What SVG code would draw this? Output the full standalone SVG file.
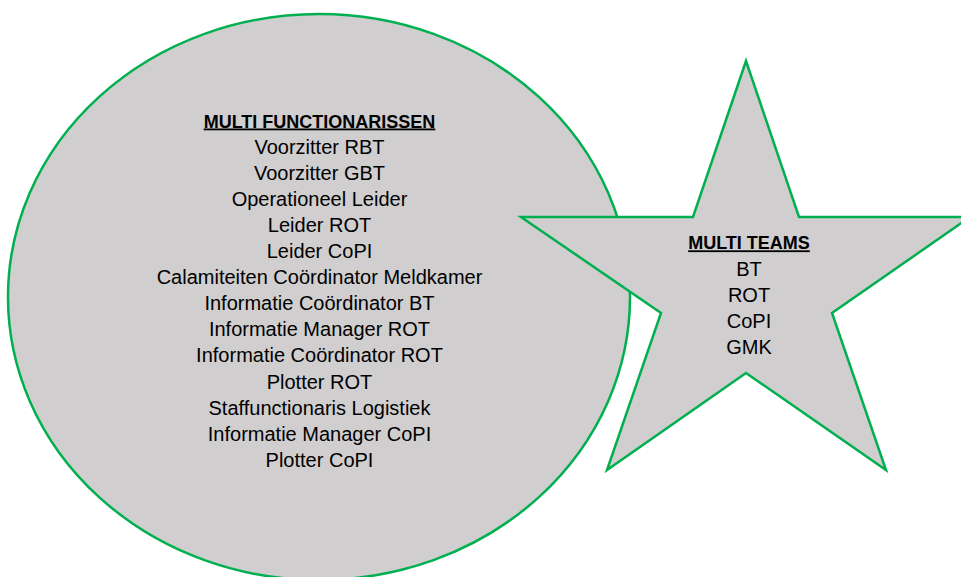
<svg xmlns="http://www.w3.org/2000/svg" width="961" height="577" viewBox="0 0 961 577">
<style>
.shape{fill:#d0cece;stroke:#00b050;stroke-width:2.5;stroke-linejoin:miter}
.t{font-family:"Liberation Sans",Arial,sans-serif;font-size:20px;fill:#000;text-anchor:middle}
.h{font-family:"Liberation Sans",Arial,sans-serif;font-size:18px;font-weight:bold;fill:#000;text-anchor:middle;text-decoration:underline}
</style>
<rect width="961" height="577" fill="#ffffff"/>
<g id="multi-functionarissen">
<ellipse class="shape" cx="319" cy="297" rx="311" ry="283"/>
<text class="h" x="319.5" y="127.5">MULTI FUNCTIONARISSEN</text>
<text class="t" x="319.5" y="153.6">Voorzitter RBT</text>
<text class="t" x="319.5" y="179.7">Voorzitter GBT</text>
<text class="t" x="319.5" y="205.8">Operationeel Leider</text>
<text class="t" x="319.5" y="231.9">Leider ROT</text>
<text class="t" x="319.5" y="258">Leider CoPI</text>
<text class="t" x="319.5" y="284.1">Calamiteiten Coördinator Meldkamer</text>
<text class="t" x="319.5" y="310.2">Informatie Coördinator BT</text>
<text class="t" x="319.5" y="336.3">Informatie Manager ROT</text>
<text class="t" x="319.5" y="362.4">Informatie Coördinator ROT</text>
<text class="t" x="319.5" y="388.5">Plotter ROT</text>
<text class="t" x="319.5" y="414.6">Staffunctionaris Logistiek</text>
<text class="t" x="319.5" y="440.7">Informatie Manager CoPI</text>
<text class="t" x="319.5" y="466.8">Plotter CoPI</text>
</g>
<g id="multi-teams">
<polygon class="shape" points="746,61 799,217 970,217 832,313 886,470 746,373 607,470 661,313 521,217 693,217"/>
<text class="h" x="749" y="249.3">MULTI TEAMS</text>
<text class="t" x="749" y="275.5">BT</text>
<text class="t" x="749" y="301.6">ROT</text>
<text class="t" x="749" y="327.7">CoPI</text>
<text class="t" x="749" y="353.8">GMK</text>
</g>
<g id="connectors"/>
</svg>
